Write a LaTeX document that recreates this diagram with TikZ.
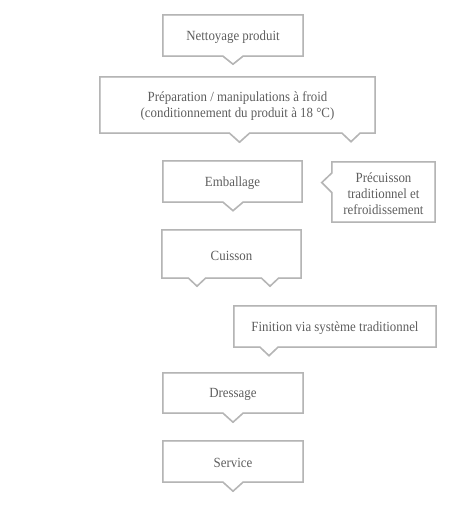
\documentclass[tikz,border=0pt]{standalone}
\usepackage{fontspec}
\setmainfont{Liberation Serif}[FakeStretch=0.92]
\usetikzlibrary{calc}
\definecolor{linegray}{HTML}{B5B5B5}
\definecolor{shadegray}{HTML}{E6E6E6}
\definecolor{textgray}{HTML}{5E5E5E}
\begin{document}
\begin{tikzpicture}[x=1pt,y=-1pt,
  stepbox/.style={draw=none, inner sep=0pt},
  steptext/.style={inner sep=0pt, align=center, text=textgray, yshift=-1.5pt,
    font=\fontsize{14}{16}\selectfont},
  outline/.style={draw=linegray, line width=1.5pt, line join=miter},
  shade/.style={draw=shadegray, line width=1.5pt, line join=miter}]
\useasboundingbox (0,0) rectangle (472,526);

% boxes
\node[stepbox, minimum width=140pt, minimum height=41pt] (n1) at (233,35.5) {};
\node[stepbox, minimum width=275pt, minimum height=56pt] (n2) at (237.5,105) {};
\node[stepbox, minimum width=139pt, minimum height=41pt] (n3) at (232.5,181.5) {};
\node[stepbox, minimum width=103pt, minimum height=60pt] (n4) at (383.5,192) {};
\node[stepbox, minimum width=139pt, minimum height=48pt] (n5) at (231.5,254) {};
\node[stepbox, minimum width=202pt, minimum height=41pt] (n6) at (335,326.5) {};
\node[stepbox, minimum width=140pt, minimum height=40pt] (n7) at (233,393) {};
\node[stepbox, minimum width=140pt, minimum height=41pt] (n8) at (233,461.5) {};

% texts
\node[steptext] (t1) at (n1) {Nettoyage produit};
\node[steptext] (t2) at (n2) {Préparation / manipulations à froid\\(conditionnement du produit à 18 °C)};
\node[steptext] (t3) at (n3) {Emballage};
\node[steptext] (t4) at (n4) {Précuisson\\traditionnel et\\refroidissement};
\node[steptext] (t5) at (n5) {Cuisson};
\node[steptext] (t6) at (n6) {Finition via système traditionnel};
\node[steptext] (t7) at (n7) {Dressage};
\node[steptext] (t8) at (n8) {Service};

% outlines with pointers
\foreach \s/\o in {shade/1, outline/0}{
\begin{scope}[shift={(\o,\o)}]
\draw[\s] (n1.north west) -- (n1.north east) -- (n1.south east)
  -- ($(n1.south)+(10,0)$) -- ($(n1.south)+(0,8)$) -- ($(n1.south)+(-10,0)$)
  -- (n1.south west) -- cycle;
\draw[\s] (n2.north west) -- (n2.north east) -- (n2.south east)
  -- ($(n2.south)+(122.5,0)$) -- ($(n2.south)+(113.5,8.5)$) -- ($(n2.south)+(104.5,0)$)
  -- ($(n2.south)+(12,0)$) -- ($(n2.south)+(2,9)$) -- ($(n2.south)+(-8,0)$)
  -- (n2.south west) -- cycle;
\draw[\s] (n3.north west) -- (n3.north east) -- (n3.south east)
  -- ($(n3.south)+(10.5,0)$) -- ($(n3.south)+(0.5,8.5)$) -- ($(n3.south)+(-9.5,0)$)
  -- (n3.south west) -- cycle;
\draw[\s] (n4.north west) -- (n4.north east) -- (n4.south east) -- (n4.south west)
  -- ($(n4.west)+(0,0.5)$) -- ($(n4.west)+(-10,-9.5)$) -- ($(n4.west)+(0,-19)$)
  -- cycle;
\draw[\s] (n5.north west) -- (n5.north east) -- (n5.south east)
  -- ($(n5.south)+(47,0)$) -- ($(n5.south)+(38.5,8)$) -- ($(n5.south)+(30,0)$)
  -- ($(n5.south)+(-26,0)$) -- ($(n5.south)+(-34.5,8)$) -- ($(n5.south)+(-43,0)$)
  -- (n5.south west) -- cycle;
\draw[\s] (n6.north west) -- (n6.north east) -- (n6.south east)
  -- ($(n6.south)+(-57,0)$) -- ($(n6.south)+(-66,8.5)$) -- ($(n6.south)+(-75,0)$)
  -- (n6.south west) -- cycle;
\draw[\s] (n7.north west) -- (n7.north east) -- (n7.south east)
  -- ($(n7.south)+(10,0)$) -- ($(n7.south)+(0,9)$) -- ($(n7.south)+(-10,0)$)
  -- (n7.south west) -- cycle;
\draw[\s] (n8.north west) -- (n8.north east) -- (n8.south east)
  -- ($(n8.south)+(10,0)$) -- ($(n8.south)+(0,9)$) -- ($(n8.south)+(-10,0)$)
  -- (n8.south west) -- cycle;
\end{scope}}
\end{tikzpicture}
\end{document}
